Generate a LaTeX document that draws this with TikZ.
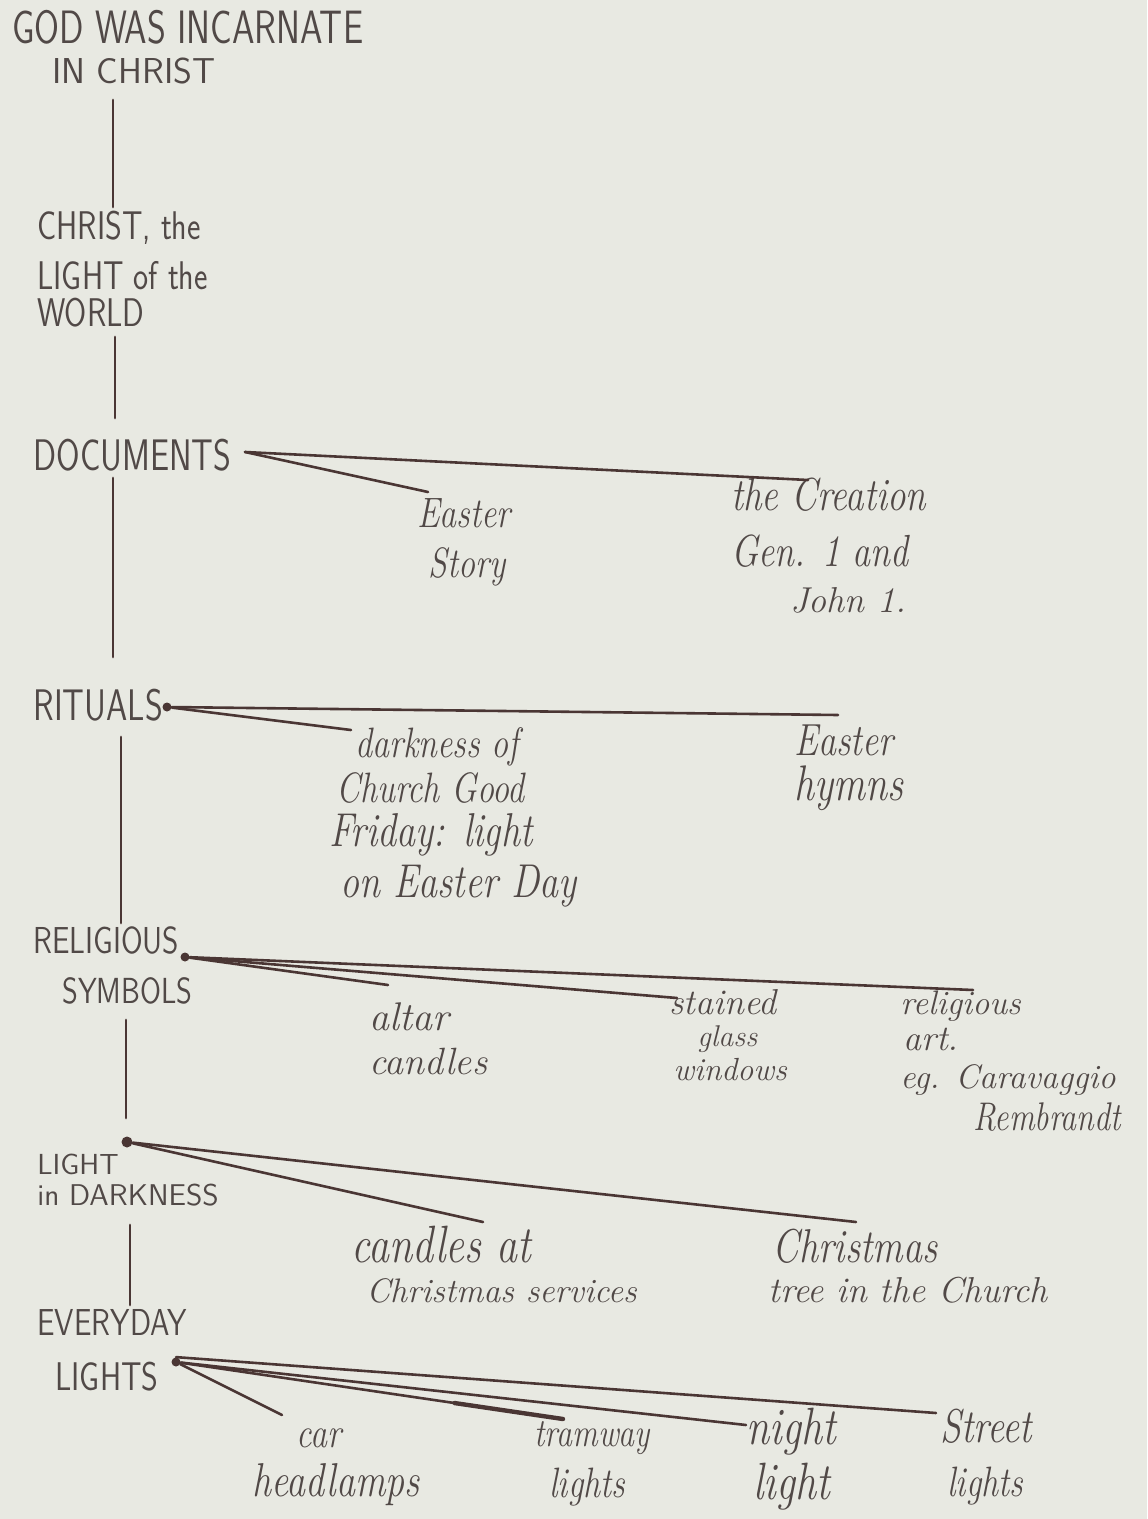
\documentclass[tikz,border=0pt]{standalone}
\usepackage{fontspec}
\usetikzlibrary{calc}
\definecolor{paper}{HTML}{E8E9E2}
\definecolor{ink}{HTML}{4A3634}
\definecolor{txt}{HTML}{514947}
\newcommand\hfnt[1]{\itshape\fontsize{#1}{#1}\selectfont}
\newcommand\cfnt[1]{\sffamily\fontsize{#1}{#1}\selectfont}
\newcommand\tall[1]{\scalebox{1}[1.25]{#1}}
\newcommand\taller[1]{\scalebox{1}[1.3]{#1}}
\tikzset{
  lbl/.style={anchor=base west, inner sep=0pt, text=txt},
  link/.style={draw=ink, line width=1.3pt, line cap=round},
  stem/.style={draw=ink, line width=1.4pt, line cap=round},
  inkdot/.style={circle, fill=ink, inner sep=0pt, minimum size=4.5pt}
}
\begin{document}
\begin{tikzpicture}[x=0.5pt,y=-0.5pt]
\fill[paper] (0,0) rectangle (1147,1519);
\useasboundingbox (0,0) rectangle (1147,1519);

% --- main column labels ---
\node[lbl,font=\cfnt{18}] (god1) at (12,44) {\taller{GOD WAS INCARNATE}};
\node[lbl,font=\cfnt{18}] (god2) at (52,84) {IN CHRIST};
\node[lbl,font=\cfnt{16}] (chr1) at (37,240) {\tall{CHRIST, the}};
\node[lbl,font=\cfnt{16}] (chr2) at (37,290) {\tall{LIGHT of the}};
\node[lbl,font=\cfnt{16}] (chr3) at (37,327) {\tall{WORLD}};
\node[lbl,font=\cfnt{17}] (docs) at (33,470) {\taller{DOCUMENTS}};
\node[lbl,font=\cfnt{17}] (rit) at (33,720) {\taller{RITUALS}};
\node[lbl,font=\cfnt{15}] (rel1) at (33,953) {\tall{RELIGIOUS}};
\node[lbl,font=\cfnt{14.5}] (rel2) at (62,1003) {\tall{SYMBOLS}};
\node[lbl,font=\cfnt{14.5}] (lid1) at (37,1174) {LIGHT};
\node[lbl,font=\cfnt{15}] (lid2) at (37,1205) {in DARKNESS};
\node[lbl,font=\cfnt{15}] (ev1) at (37,1335) {\tall{EVERYDAY}};
\node[lbl,font=\cfnt{16}] (ev2) at (55,1390) {\tall{LIGHTS}};

% --- branch labels ---
\node[lbl,font=\hfnt{17}] (eas1) at (417,527) {\tall{Easter}};
\node[lbl,font=\hfnt{17}] (eas2) at (428,577) {\tall{Story}};
\node[lbl,font=\hfnt{18.5}] (cre1) at (731,510) {\tall{the Creation}};
\node[lbl,font=\hfnt{18}] (cre2) at (731,566) {\tall{Gen. 1 and}};
\node[lbl,font=\hfnt{18}] (cre3) at (790,612) {John 1.};

\node[lbl,font=\hfnt{17}] (dk1) at (355,757) {\tall{darkness of}};
\node[lbl,font=\hfnt{17}] (dk2) at (336,802) {\tall{Church Good}};
\node[lbl,font=\hfnt{19}] (dk3) at (329,846) {\tall{Friday: light}};
\node[lbl,font=\hfnt{19}] (dk4) at (340,897) {\tall{on Easter Day}};
\node[lbl,font=\hfnt{18}] (hy1) at (794,755) {\tall{Easter}};
\node[lbl,font=\hfnt{20}] (hy2) at (794,800) {\tall{hymns}};

\node[lbl,font=\hfnt{20}] (alt1) at (369,1030) {altar};
\node[lbl,font=\hfnt{19}] (alt2) at (369,1074) {candles};
\node[lbl,font=\hfnt{18}] (st1) at (669,1014) {stained};
\node[lbl,font=\hfnt{15}] (st2) at (697,1046) {glass};
\node[lbl,font=\hfnt{16}] (st3) at (673,1080) {windows};
\node[lbl,font=\hfnt{17}] (ra1) at (900,1014) {religious};
\node[lbl,font=\hfnt{18}] (ra2) at (903,1050) {art.};
\node[lbl,font=\hfnt{17}] (ra3) at (900,1088) {eg. Caravaggio};
\node[lbl,font=\hfnt{16}] (ra4) at (973,1130) {\tall{Rembrandt}};

\node[lbl,font=\hfnt{21}] (cc1) at (351,1262) {\tall{candles at}};
\node[lbl,font=\hfnt{17}] (cc2) at (366,1302) {Christmas services};
\node[lbl,font=\hfnt{19}] (ct1) at (772,1262) {\tall{Christmas}};
\node[lbl,font=\hfnt{18}] (ct2) at (768,1302) {tree in the Church};

\node[lbl,font=\hfnt{17}] (car1) at (296,1447) {\tall{car}};
\node[lbl,font=\hfnt{19}] (car2) at (252,1496) {\tall{headlamps}};
\node[lbl,font=\hfnt{16}] (tr1) at (534,1446) {\tall{tramway}};
\node[lbl,font=\hfnt{17}] (tr2) at (549,1497) {\tall{lights}};
\node[lbl,font=\hfnt{21}] (ni1) at (746,1444) {\tall{night}};
\node[lbl,font=\hfnt{21}] (ni2) at (753,1499) {\tall{light}};
\node[lbl,font=\hfnt{19}] (sl1) at (940,1442) {\tall{Street}};
\node[lbl,font=\hfnt{17}] (sl2) at (947,1496) {\tall{lights}};

% --- junction points ---
\coordinate (docsP) at (245,452);
\node[inkdot] (ritD) at (167,707) {};
\node[inkdot] (relD) at (185,957) {};
\node[inkdot,minimum size=5.5pt] (lidD) at (127,1142) {};
\node[inkdot] (evD) at (176,1362) {};

% --- connector ends ---
\coordinate (v1a) at (113,100);  \coordinate (v1b) at (113,207);
\coordinate (v2a) at (115,337);  \coordinate (v2b) at (115,418);
\coordinate (v3a) at (113,478);  \coordinate (v3b) at (113,657);
\coordinate (v4a) at (121,737);  \coordinate (v4b) at (121,923);
\coordinate (v5a) at (126,1020); \coordinate (v5b) at (126,1118);
\coordinate (v6a) at (130,1225); \coordinate (v6b) at (130,1305);

\coordinate (easT) at (428,492);
\coordinate (creT) at (808,480);
\coordinate (dkT) at (351,730);
\coordinate (hyT) at (838,715);
\coordinate (altT) at (388,985);
\coordinate (stT) at (677,998);
\coordinate (raT) at (973,990);
\coordinate (ccT) at (483,1222);
\coordinate (ctT) at (856,1222);
\coordinate (carT) at (282,1415);
\coordinate (trT) at (563,1419);
\coordinate (niT) at (746,1425);
\coordinate (slT) at (936,1413);

% --- main stem ---
\draw[stem] (v1a) -- (v1b);
\draw[stem] (v2a) -- (v2b);
\draw[stem] (v3a) -- (v3b);
\draw[stem] (v4a) -- (v4b);
\draw[stem] (v5a) -- (v5b);
\draw[stem] (v6a) -- (v6b);

% --- branches ---
\draw[link] (docsP) -- (easT);
\draw[link] (docsP) -- (creT);
\draw[link] (ritD) -- (dkT);
\draw[link] (ritD) -- (hyT);
\draw[link] (relD) -- (altT);
\draw[link] (relD) -- (stT);
\draw[link] (relD) -- (raT);
\draw[link] (lidD) -- (ccT);
\draw[link] (lidD) -- (ctT);
\draw[link] (evD) -- (carT);
\draw[link] (evD) -- (trT);
\draw[link,line width=2.2pt] ($(evD)!0.72!(trT)$) -- (trT);
\draw[link] (evD) -- (niT);
\draw[link] (evD.north) -- (slT);
\end{tikzpicture}
\end{document}
